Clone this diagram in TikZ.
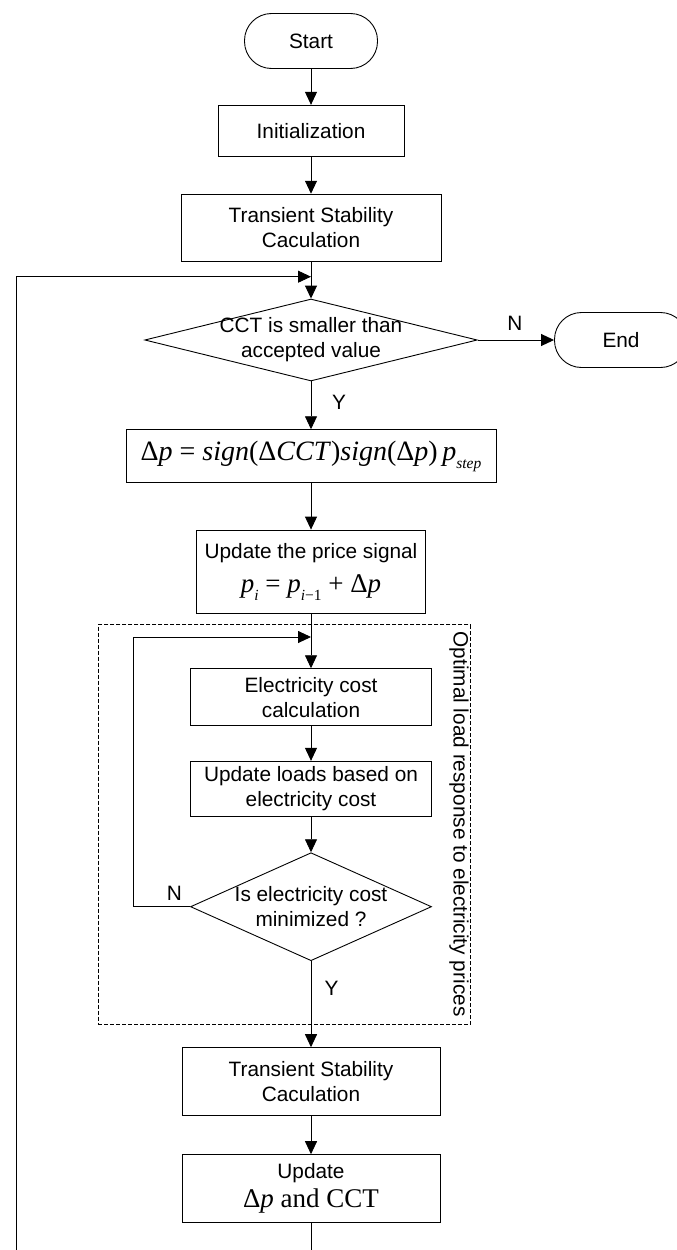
\documentclass[tikz,border=0pt]{standalone}
\usepackage{fontspec}
\setmainfont{Liberation Sans}
\newfontfamily\tnr{Liberation Serif}
\usetikzlibrary{arrows.meta,shapes.geometric}
\newcommand{\vi}[1]{\textit{#1}}
\newcommand{\lowsub}[1]{\raisebox{-0.3em}{\fontsize{15.5pt}{16pt}\selectfont\textit{#1}}}

\begin{document}
\begin{tikzpicture}[x=1pt,y=-1pt,
  every node/.style={font=\fontsize{20.8pt}{25pt}\selectfont, inner sep=0pt},
  box/.style={draw, line width=0.9pt, align=center},
  term/.style={draw, line width=0.9pt, rounded corners=27pt, minimum width=133pt, minimum height=55pt},
  decision/.style={draw, diamond, line width=0.9pt},
  flow/.style={line width=0.9pt, -{Triangle[length=13pt,width=12pt]}},
  frame/.style={draw, line width=0.7pt, dash pattern=on 4pt off 2pt},
  mathtxt/.style={font=\tnr\fontsize{28pt}{32pt}\selectfont}
]
\useasboundingbox (0,0) rectangle (677,1250);

% main column
\node[term] (start) at (311,41) {Start};
\node[box, minimum width=186pt, minimum height=51pt] (init) at (311,130.8) {Initialization};
\node[box, minimum width=260pt, minimum height=67pt] (tsc1) at (311,227.7) {Transient Stability\\Caculation};
\node[decision, minimum width=332.5pt, minimum height=82pt,
      label={[align=center]center:CCT is smaller than\\accepted value}] (d1) at (311,340) {};
\node[term] (endn) at (621,340) {End};
\node[box, minimum width=370pt, minimum height=53pt, mathtxt] (dp) at (311,456.2)
  {Δ\vi{p} = \vi{sign}(Δ\vi{CCT})\vi{sign}(Δ\vi{p})\,\vi{p}\lowsub{step}};
\node[box, minimum width=229.7pt, minimum height=83.3pt] (price) at (311,571.7)
  {Update the price signal\\[9pt]{\tnr\fontsize{27pt}{30pt}\selectfont \vi{p}\lowsub{i} = \vi{p}\lowsub{i}\raisebox{-0.3em}{\fontsize{15.5pt}{16pt}\selectfont −1} + Δ\vi{p}}};

% inner optimisation loop
\node[frame, minimum width=372.2pt, minimum height=399.6pt] (grp) at (284.5,824.5) {};
\node[rotate=-90] (grptitle) at (459,824) {Optimal load response to electricity prices};
\node[box, minimum width=241pt, minimum height=57pt] (ecc) at (311,697.2) {Electricity cost\\calculation};
\node[box, minimum width=241pt, minimum height=55.4pt] (loads) at (311,789) {Update loads based on\\electricity cost};
\node[decision, minimum width=241pt, minimum height=108pt,
      label={[align=center]center:Is electricity cost\\minimized ?}] (d2) at (311,906.7) {};

\node[box, minimum width=258pt, minimum height=67.7pt] (tsc2) at (311,1081.5) {Transient Stability\\Caculation};
\node[box, minimum width=258pt, minimum height=67.7pt] (upd) at (311,1188.5)
  {Update\\[4pt]{\tnr\fontsize{27pt}{30pt}\selectfont Δ\vi{p} and CCT}};

% branch labels
\node (n1) at (515,323) {N};
\node (y1) at (339,402) {Y};
\node (n2) at (174.4,893) {N};
\node (y2) at (331.6,988) {Y};

% junctions of the loops
\coordinate (j1) at (311,276.7);
\coordinate (j2) at (311,637);
\coordinate (lb) at (16.4,1290);

% connectors
\draw[flow] (start) -- (init);
\draw[flow] (init) -- (tsc1);
\draw[flow] (tsc1) -- (d1);
\draw[flow] (d1) -- (endn);
\draw[flow] (d1) -- (dp);
\draw[flow] (dp) -- (price);
\draw[flow] (price) -- (ecc);
\draw[flow] (ecc) -- (loads);
\draw[flow] (loads) -- (d2);
\draw[flow] (d2) -- (tsc2);
\draw[flow] (tsc2) -- (upd);
\draw[flow] (d2.west) -- ++(-56.4,0) |- (j2);
\draw[flow] (upd.south) |- (lb) |- (j1);
\end{tikzpicture}
\end{document}
